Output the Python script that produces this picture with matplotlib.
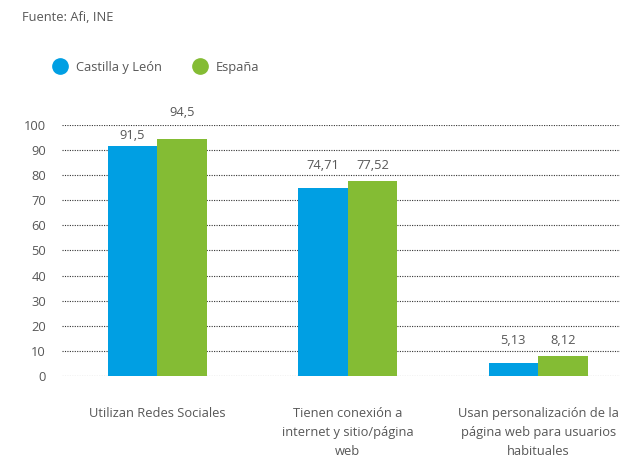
import numpy as np
import matplotlib.pyplot as plt
from matplotlib.lines import Line2D

plt.rcParams['font.family'] = ['Open Sans', 'DejaVu Sans']

categories = ["Utilizan Redes Sociales",
              "Tienen conexión a\ninternet y sitio/página\nweb",
              "Usan personalización de la\npágina web para usuarios\nhabituales"]
castilla = [91.5, 74.71, 5.13]
espana = [94.5, 77.52, 8.12]
castilla_lbl = ["91,5", "74,71", "5,13"]
espana_lbl = ["94,5", "77,52", "8,12"]
# label gap above each bar (data units), as placed in the original
castilla_gap = [1.7, 6.6, 6.4]
espana_gap = [7.9, 3.8, 3.4]

blue = '#009FE3'
green = '#84BC34'
txt = '#575757'
fs = 9.3

fig = plt.figure(figsize=(6.2, 4.63), dpi=100)
ax = fig.add_axes([0.1, 0.188, 0.9, 0.542])

x = np.arange(len(categories))
w = 0.26
b1 = ax.bar(x - w / 2, castilla, w, color=blue, zorder=2)
b2 = ax.bar(x + w / 2, espana, w, color=green, zorder=2)

for bars, lbls, gaps in [(b1, castilla_lbl, castilla_gap), (b2, espana_lbl, espana_gap)]:
    for bar, lbl, g in zip(bars, lbls, gaps):
        ax.text(bar.get_x() + bar.get_width() / 2, bar.get_height() + g, lbl,
                ha='center', va='bottom', fontsize=fs, color=txt, clip_on=False)

ax.set_ylim(0, 100)
ax.set_xlim(-0.5, 2.43)
ax.set_yticks(range(0, 101, 10))
ax.yaxis.grid(True, linestyle=(0, (1, 1.2)), color='#333333', linewidth=0.8, zorder=0)
ax.set_axisbelow(True)
ax.tick_params(axis='y', length=0, pad=11.5, labelsize=fs, labelcolor=txt)
ax.set_xticks(x)
ax.set_xticklabels(categories, fontsize=fs, color=txt, linespacing=1.6)
ax.tick_params(axis='x', length=0, pad=22.5)
for s in ax.spines.values():
    s.set_visible(False)

fig.text(0.035, 0.963, "Fuente: Afi, INE", fontsize=fs, color=txt, va='center')

handles = [Line2D([], [], marker='o', linestyle='', markersize=11, color=blue),
           Line2D([], [], marker='o', linestyle='', markersize=11, color=green)]
fig.legend(handles, ["Castilla y León", "España"], loc='center left',
           bbox_to_anchor=(0.068, 0.855), ncol=2, frameon=False, fontsize=fs,
           labelcolor=txt, handletextpad=0.7, columnspacing=2.5, handlelength=1.0)

plt.savefig("out.png", dpi=100)
